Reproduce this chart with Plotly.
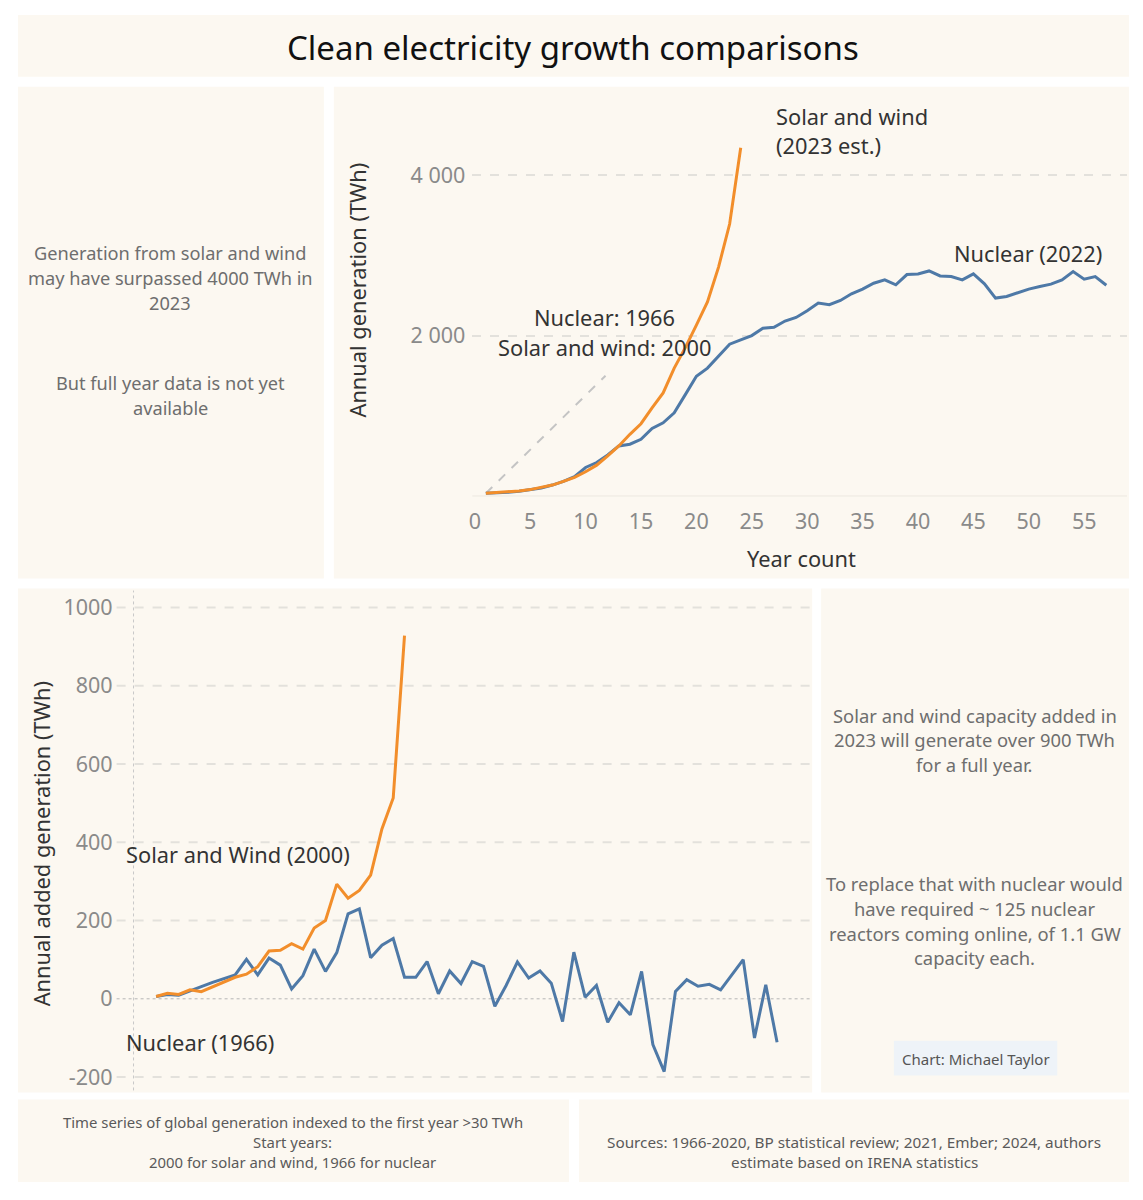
import plotly.graph_objects as go

# ---------------- data ----------------
sw_years = list(range(1, 25))
sw_gen = [33, 41, 50, 62, 79, 103, 136, 182, 231, 302, 384, 500, 624, 769, 901,
          1099, 1285, 1595, 1850, 2132, 2421, 2855, 3392, 4343]

nuc_years = list(range(1, 58))
nuc_gen = [33, 37, 45, 58, 74, 99, 136, 182, 240, 355, 417, 512, 624, 645, 707,
           843, 913, 1037, 1264, 1492, 1595, 1740, 1893, 1946, 2000, 2091, 2103,
           2182, 2227, 2310, 2406, 2385, 2439, 2522, 2580, 2654, 2696, 2634, 2762,
           2770, 2807, 2745, 2737, 2696, 2770, 2646, 2468, 2489, 2538, 2580, 2613,
           2642, 2696, 2799, 2704, 2737, 2629]

sw_add_years = list(range(2, 25))
sw_add = [6, 14, 11, 23, 18, 31, 42, 55, 63, 82, 122, 124, 141, 127, 181, 200,
          293, 257, 277, 316, 434, 513, 928]

nuc_add_years = list(range(2, 58))
nuc_add = [6, 11, 9, 19, 31, 42, 51, 61, 101, 61, 104, 86, 25, 59, 127, 70, 118,
           217, 230, 105, 137, 154, 55, 55, 95, 13, 71, 39, 95, 83, -19, 34, 94,
           53, 71, 40, -58, 119, 4, 34, -60, -10, -41, 70, -117, -186, 19, 49, 32,
           37, 23, 60, 100, -100, 36, -111]

# guide line (year count, TWh) pointing to start-year label
guide_x = [1, 11.8]
guide_y = [33, 1500]

top_xticks = list(range(0, 60, 5))
top_yticks = [2000, 4000]
top_yticktext = ["2 000", "4 000"]
bot_yticks = [-200, 0, 200, 400, 600, 800, 1000]
bot_yticktext = ["-200", "0", "200", "400", "600", "800", "1000"]

# ---------------- styling ----------------
W, H = 1143, 1200
FONT = "Noto Sans"
PANEL = "#fcf8f1"
ORANGE = "#f28e2b"
BLUE = "#4e79a7"
TICK = "#8a8a8a"
DARK = "#333333"
GREY_TXT = "#6e6e6e"


def px(x):
    return x / W


def py(y):
    return 1 - y / H


fig = go.Figure()

# top chart
fig.add_trace(go.Scatter(x=guide_x, y=guide_y, mode="lines",
                         line=dict(color="#c4c4c4", width=2, dash="dash"),
                         hoverinfo="skip", showlegend=False, xaxis="x", yaxis="y"))
fig.add_trace(go.Scatter(x=nuc_years, y=nuc_gen, mode="lines", name="Nuclear",
                         line=dict(color=BLUE, width=3), showlegend=False,
                         xaxis="x", yaxis="y"))
fig.add_trace(go.Scatter(x=sw_years, y=sw_gen, mode="lines", name="Solar and wind",
                         line=dict(color=ORANGE, width=3), showlegend=False,
                         xaxis="x", yaxis="y"))

# bottom chart
fig.add_trace(go.Scatter(x=nuc_add_years, y=nuc_add, mode="lines", name="Nuclear",
                         line=dict(color=BLUE, width=3), showlegend=False,
                         xaxis="x2", yaxis="y2"))
fig.add_trace(go.Scatter(x=sw_add_years, y=sw_add, mode="lines", name="Solar and wind",
                         line=dict(color=ORANGE, width=3), showlegend=False,
                         xaxis="x2", yaxis="y2"))

shapes = []
# panels
panels = [(14, 14, 1129, 76), (14, 86, 321, 580), (331, 86, 1129, 580),
          (14, 590, 811, 1096), (820, 590, 1129, 1096),
          (14, 1103, 567, 1186), (577, 1103, 1129, 1186)]
for x0, y0, x1, y1 in panels:
    shapes.append(dict(type="rect", xref="paper", yref="paper",
                       x0=px(x0), x1=px(x1), y0=py(y1), y1=py(y0),
                       fillcolor=PANEL, line=dict(width=0), layer="below"))
# credit box
shapes.append(dict(type="rect", xref="paper", yref="paper",
                   x0=px(893), x1=px(1057), y0=py(1079), y1=py(1044),
                   fillcolor="#eef3f8", line=dict(width=0), layer="below"))
# top baseline
shapes.append(dict(type="line", xref="x domain", yref="y", x0=0, x1=1, y0=0, y1=0,
                   line=dict(color="#ece8e0", width=1), layer="below"))
# bottom gridlines (dashed) except zero
for v in bot_yticks:
    if v == 0:
        continue
    shapes.append(dict(type="line", xref="x2 domain", yref="y2", x0=0, x1=1, y0=v, y1=v,
                       line=dict(color="#e3e1dc", width=2, dash="dash"), layer="below"))
# bottom zero lines (dotted)
shapes.append(dict(type="line", xref="x2 domain", yref="y2", x0=0, x1=1, y0=0, y1=0,
                   line=dict(color="#b5b5b5", width=1, dash="dot"), layer="below"))
shapes.append(dict(type="line", xref="x2", yref="paper", x0=0, x1=0,
                   y0=py(1094), y1=py(592),
                   line=dict(color="#c8c8c8", width=1, dash="dot"), layer="below"))

annotations = []


def txt(text, x, y, size, color, xanchor="center", yanchor="middle", angle=0):
    annotations.append(dict(text=text, x=px(x), y=py(y), xref="paper", yref="paper",
                            showarrow=False, xanchor=xanchor, yanchor=yanchor,
                            textangle=angle,
                            font=dict(family=FONT, size=size, color=color)))


txt("Clean electricity growth comparisons", 571, 47, 33, "#111111")

# left text panel
for i, s in enumerate(["Generation from solar and wind", "may have surpassed 4000 TWh in", "2023"]):
    txt(s, 167, 253 + 25 * i, 18.2, GREY_TXT)
for i, s in enumerate(["But full year data is not yet", "available"]):
    txt(s, 167, 384 + 25 * i, 18.2, GREY_TXT)

# right text panel
for i, s in enumerate(["Solar and wind capacity added in", "2023 will generate over 900 TWh",
                       "for a full year."]):
    txt(s, 974, 717 + 25 * i, 18.4, GREY_TXT)
for i, s in enumerate(["To replace that with nuclear would", "have required ~ 125 nuclear",
                       "reactors coming online, of 1.1 GW", "capacity each."]):
    txt(s, 974, 886 + 25 * i, 18.4, GREY_TXT)
txt("Chart: Michael Taylor", 975, 1062, 15, "#555555")

# footers
for i, s in enumerate(["Time series of global generation indexed to the first year >30 TWh",
                       "Start years:", "2000 for solar and wind, 1966 for nuclear"]):
    txt(s, 290, 1126 + 20 * i, 14.9, "#5a5a5a")
for i, s in enumerate(["Sources: 1966-2020, BP statistical review; 2021, Ember; 2024, authors",
                       "estimate based on IRENA statistics"]):
    txt(s, 853, 1146 + 20 * i, 15.3, "#5a5a5a")

# top chart labels
LBL = 21.8
txt("Solar and wind", 773, 116, LBL, DARK, xanchor="left")
txt("(2023 est.)", 773, 145, LBL, DARK, xanchor="left")
txt("Nuclear (2022)", 1104, 254, LBL, DARK, xanchor="right")
txt("Nuclear: 1966", 603, 318, LBL, DARK)
txt("Solar and wind: 2000", 603, 348, LBL, DARK)
txt("Annual generation (TWh)", 355, 290, LBL, DARK, angle=-90)
txt("Year count", 800, 560, LBL, DARK)

# bottom chart labels
txt("Solar and Wind (2000)", 120, 857, LBL, DARK, xanchor="left")
txt("Nuclear (1966)", 120, 1046, LBL, DARK, xanchor="left")
txt("Annual added generation (TWh)", 38, 846, LBL, DARK, angle=-90)

TF = 21.5
fig.update_layout(
    width=W, height=H, autosize=False,
    margin=dict(l=0, r=0, t=0, b=0),
    paper_bgcolor="white", plot_bgcolor="rgba(0,0,0,0)",
    font=dict(family=FONT),
    showlegend=False,
    shapes=shapes, annotations=annotations,
    xaxis=dict(domain=[px(470), px(1127)], range=[-0.22, 58.87],
               tickvals=top_xticks, showgrid=False, zeroline=False, showline=False,
               ticks="", ticklabelstandoff=8,
               tickfont=dict(family=FONT, size=TF, color=TICK), anchor="y", fixedrange=True),
    yaxis=dict(domain=[py(500), py(100)], range=[-37, 4932],
               tickvals=top_yticks, ticktext=top_yticktext,
               showgrid=True, gridcolor="#e3e1dc", gridwidth=2, griddash="dash",
               zeroline=False, showline=False, ticks="", ticklabelstandoff=6,
               tickfont=dict(family=FONT, size=TF, color=TICK), anchor="x", fixedrange=True),
    xaxis2=dict(domain=[px(113), px(810)], range=[-1.5, 60.02],
                showticklabels=False, showgrid=False, zeroline=False, showline=False,
                ticks="", anchor="y2", fixedrange=True),
    yaxis2=dict(domain=[py(1090), py(595)], range=[-224, 1035.6],
                tickvals=bot_yticks, ticktext=bot_yticktext,
                showgrid=False, zeroline=False, showline=False, ticks="",
                ticklabelstandoff=3,
                tickfont=dict(family=FONT, size=TF, color=TICK), anchor="x2", fixedrange=True),
)

fig.write_html("out.html", post_script="document.body.style.margin='0';",
               config={"displayModeBar": False})
